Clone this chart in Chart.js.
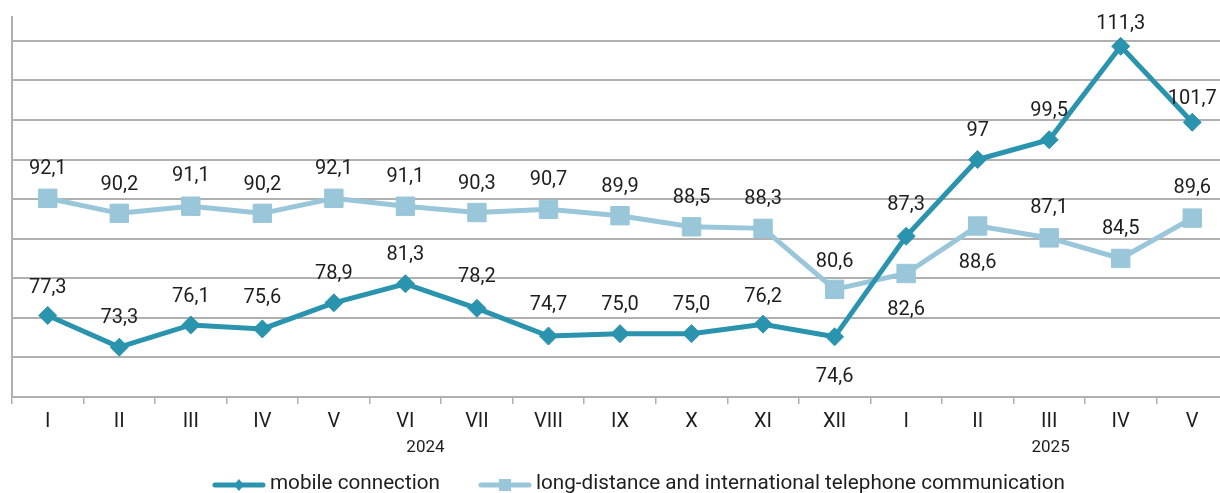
<!DOCTYPE html>
<html>
<head>
<meta charset="utf-8">
<script src="https://cdn.jsdelivr.net/npm/chart.js@4"></script>
<style>
  html, body { margin: 0; padding: 0; background: #fff; overflow: hidden; }
  #wrap { width: 1220px; height: 493px; overflow: hidden; }
</style>
</head>
<body>
<div id="wrap"><canvas id="chart" width="1228" height="493"></canvas></div>
<script>
// months of 2024 and 2025 (Jan 2024 .. May 2025)
const months = ['I', 'II', 'III', 'IV', 'V', 'VI', 'VII', 'VIII', 'IX', 'X', 'XI', 'XII', 'I', 'II', 'III', 'IV', 'V'];
const years = ['2024', '2025'];
const mobile = ['77.3', '73.3', '76.1', '75.6', '78.9', '81.3', '78.2', '74.7', '75.0', '75.0', '76.2', '74.6', '87.3', '97', '99.5', '111.3', '101.7'];
const longDistance = ['92.1', '90.2', '91.1', '90.2', '92.1', '91.1', '90.3', '90.7', '89.9', '88.5', '88.3', '80.6', '82.6', '88.6', '87.1', '84.5', '89.6'];
const yTicks = [67, 72, 77, 82, 87, 92, 97, 102, 107, 112];

const darkBlue = '#2a93ae';
const lightBlue = '#99c6d9';
const gridColor = '#b0b0b0';
const textColor = '#1e1e1e';
const fontFamily = 'Roboto, "Noto Sans", sans-serif';

// label offsets (px from the point), negative = above
const labelDy = [
  [-27, -29, -28, -31, -29, -29, -31, -31, -29, -29, -27, 40, -31, -29, -29, -22, -23],
  [-29, -28, -30, -28, -29, -29, -29, -29, -29, -29, -29, -27, 36, 37, -30, -29, -30]
];
// where the year captions sit, in category units
const yearAt = [5.28, 14.02];

const valueLabels = {
  id: 'valueLabels',
  afterDatasetsDraw(chart) {
    const ctx = chart.ctx;
    ctx.save();
    ctx.font = '20px ' + fontFamily;
    ctx.fillStyle = textColor;
    ctx.textAlign = 'center';
    ctx.textBaseline = 'middle';
    chart.data.datasets.forEach((ds, di) => {
      chart.getDatasetMeta(di).data.forEach((pt, i) => {
        ctx.fillText(String(ds.data[i]).replace('.', ','), pt.x, pt.y + labelDy[di][i]);
      });
    });
    ctx.restore();
  }
};

const yearLabels = {
  id: 'yearLabels',
  afterDraw(chart) {
    const ctx = chart.ctx;
    const x = chart.scales.x;
    ctx.save();
    ctx.font = '17px ' + fontFamily;
    ctx.fillStyle = textColor;
    ctx.textAlign = 'center';
    ctx.textBaseline = 'middle';
    years.forEach((y, i) => {
      ctx.fillText(y, x.getPixelForValue(yearAt[i]), 448);
    });
    ctx.restore();
  }
};

// legend: line with marker, then the dataset label
const lineLegend = {
  id: 'lineLegend',
  afterDraw(chart) {
    const ctx = chart.ctx;
    const dsets = chart.data.datasets;
    const markW = 54, gapText = 4, gapItem = 38, cy = 485;
    ctx.save();
    ctx.font = '20.7px ' + fontFamily;
    ctx.textBaseline = 'middle';
    ctx.textAlign = 'left';
    const widths = dsets.map(d => markW + gapText + ctx.measureText(d.label).width);
    const total = widths.reduce((a, b) => a + b, 0) + gapItem * (dsets.length - 1);
    let x = 638.5 - total / 2;
    dsets.forEach((d, i) => {
      ctx.strokeStyle = d.borderColor;
      ctx.lineWidth = 5;
      ctx.lineCap = 'round';
      ctx.beginPath();
      ctx.moveTo(x + 3, cy);
      ctx.lineTo(x + markW - 3, cy);
      ctx.stroke();
      ctx.fillStyle = d.borderColor;
      const mx = x + markW / 2;
      if (d.pointStyle === 'rectRot') {
        ctx.beginPath();
        ctx.moveTo(mx - 5, cy);
        ctx.lineTo(mx, cy - 6);
        ctx.lineTo(mx + 5, cy);
        ctx.lineTo(mx, cy + 6);
        ctx.closePath();
        ctx.fill();
      } else {
        ctx.fillRect(mx - 6, cy - 6, 12, 12);
      }
      ctx.fillStyle = textColor;
      ctx.fillText(d.label, x + markW + gapText, cy - 1);
      x += widths[i] + gapItem;
    });
    ctx.restore();
  }
};

new Chart(document.getElementById('chart').getContext('2d'), {
  type: 'line',
  data: {
    labels: months,
    datasets: [{
      label: 'mobile connection',
      data: mobile,
      borderColor: darkBlue,
      backgroundColor: darkBlue,
      borderWidth: 5,
      pointStyle: 'rectRot',
      pointRadius: 9,
      pointBorderWidth: 1,
      tension: 0
    }, {
      label: 'long-distance and international telephone communication',
      data: longDistance,
      borderColor: lightBlue,
      backgroundColor: lightBlue,
      borderWidth: 5,
      pointStyle: 'rect',
      pointRadius: 13,
      pointBorderWidth: 1,
      tension: 0
    }]
  },
  options: {
    responsive: false,
    animation: false,
    devicePixelRatio: 1,
    layout: { autoPadding: false, padding: { top: 17, bottom: 46, left: 0, right: 0 } },
    plugins: {
      legend: { display: false },
      tooltip: { enabled: false }
    },
    scales: {
      x: {
        offset: true,
        grid: {
          offset: true,
          drawOnChartArea: false,
          drawTicks: true,
          tickLength: 7,
          color: gridColor,
          lineWidth: 1.5
        },
        border: { display: true, color: gridColor, width: 2 },
        ticks: {
          font: { family: fontFamily, size: 20 },
          color: textColor,
          padding: 6,
          maxRotation: 0,
          autoSkip: false
        },
        afterFit: s => { s.height = 50; s.paddingLeft = 0; s.paddingRight = 0; }
      },
      y: {
        min: 67,
        max: 115,
        afterBuildTicks: s => { s.ticks = yTicks.map(v => ({ value: v })); },
        ticks: { display: false },
        grid: { drawTicks: false, color: gridColor, lineWidth: 2 },
        border: { display: true, color: gridColor, width: 2 },
        afterFit: s => { s.width = 12; }
      }
    }
  },
  plugins: [valueLabels, yearLabels, lineLegend]
});
</script>
</body>
</html>
